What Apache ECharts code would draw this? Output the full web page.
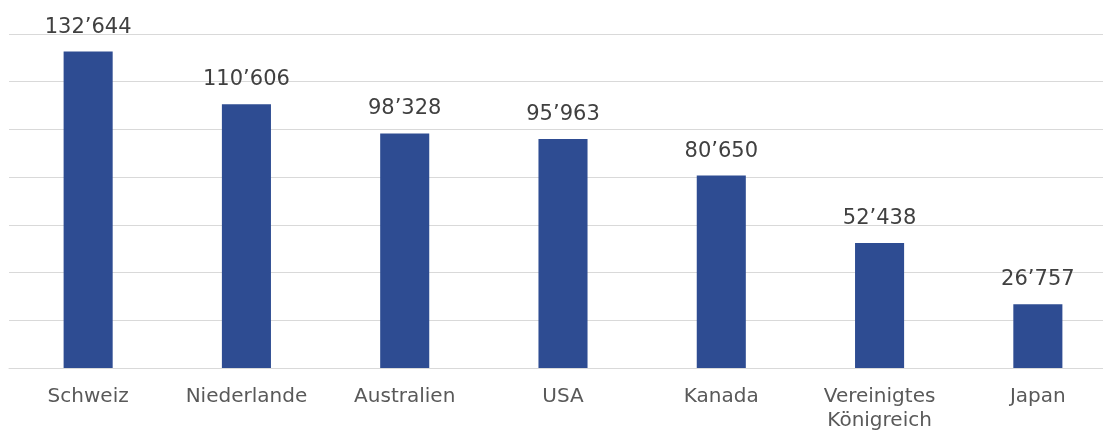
<!DOCTYPE html>
<html>
<head>
<meta charset="utf-8">
<script src="https://cdn.jsdelivr.net/npm/echarts@6/dist/echarts.min.js"></script>
<style>
html,body{margin:0;padding:0;background:#fff;overflow:hidden;width:1103px;height:434px;}
#chart{width:1117px;height:434px;}
</style>
</head>
<body>
<div id="chart"></div>
<script>
const categories = ['Schweiz', 'Niederlande', 'Australien', 'USA', 'Kanada', 'Vereinigtes\nKönigreich', 'Japan'];
const values = [132644, 110606, 98328, 95963, 80650, 52438, 26757];
const yMax = 140000;
const yInterval = 20000;

function fmt(v) {
  return String(v).replace(/\B(?=(\d{3})+(?!\d))/g, '\u2019');
}

const chart = echarts.init(document.getElementById('chart'));
chart.setOption({
  animation: false,
  backgroundColor: '#ffffff',
  grid: { left: 9, right: 0, top: 34, bottom: 66, containLabel: false },
  xAxis: {
    type: 'category',
    data: categories,
    axisLine: { show: true, lineStyle: { color: '#d9d9d9', width: 1 } },
    axisTick: { show: false },
    axisLabel: {
      color: '#595959',
      fontFamily: 'DejaVu Sans',
      fontSize: 20,
      lineHeight: 24,
      margin: 17,
      interval: 0
    }
  },
  yAxis: {
    type: 'value',
    min: 0,
    max: yMax,
    interval: yInterval,
    axisLabel: { show: false },
    axisLine: { show: false },
    axisTick: { show: false },
    splitLine: { show: true, lineStyle: { color: '#d9d9d9', width: 1 } }
  },
  series: [{
    type: 'bar',
    data: values,
    barWidth: '31%',
    itemStyle: { color: '#2E4C92' },
    label: {
      show: true,
      position: 'top',
      distance: 14,
      color: '#404040',
      fontFamily: 'DejaVu Sans',
      fontSize: 21,
      formatter: p => fmt(p.value)
    }
  }]
});
</script>
</body>
</html>
